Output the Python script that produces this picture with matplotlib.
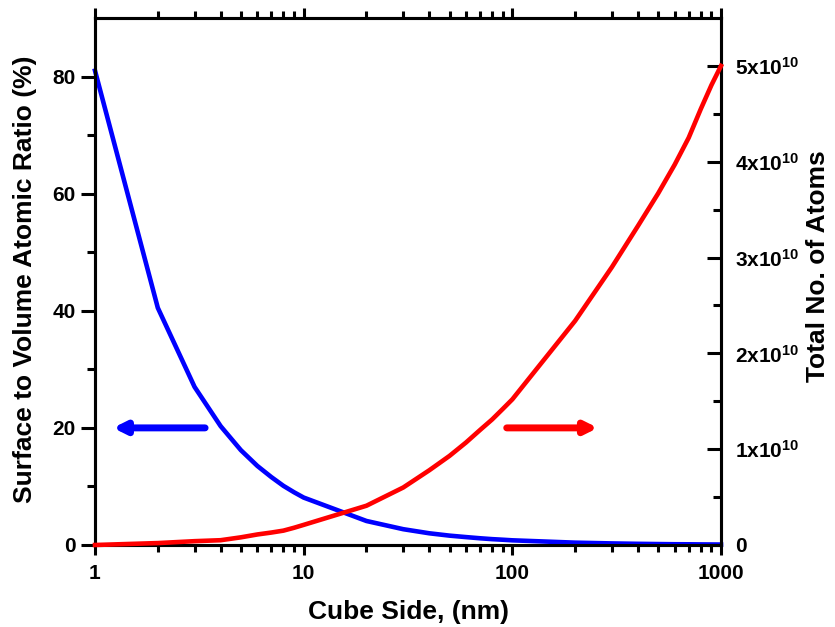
import matplotlib
matplotlib.use("Agg")
import matplotlib.pyplot as plt
from matplotlib.ticker import FixedLocator, NullFormatter, LogLocator

plt.rcParams['font.family'] = ['Liberation Sans', 'DejaVu Sans']
plt.rcParams['font.weight'] = 'bold'
plt.rcParams['mathtext.default'] = 'regular'

cube_side = [1, 2, 3, 4, 5, 6, 7, 8, 9, 10, 20, 30, 40, 50, 60, 70, 80, 90, 100,
             200, 300, 400, 500, 600, 700, 800, 900, 1000]
surface_ratio = [81, 40.5, 27, 20.3, 16.2, 13.5, 11.6, 10.1, 9.0, 8.1, 4.1, 2.7, 2.0,
                 1.6, 1.35, 1.15, 1.0, 0.9, 0.8, 0.4, 0.27, 0.2, 0.16, 0.13, 0.12,
                 0.1, 0.09, 0.08]
total_atoms = [0.0, 0.02e10, 0.04e10, 0.05e10, 0.08e10, 0.11e10, 0.13e10, 0.15e10,
               0.18e10, 0.21e10, 0.41e10, 0.60e10, 0.78e10, 0.93e10, 1.07e10,
               1.20e10, 1.31e10, 1.42e10, 1.52e10, 2.34e10, 2.90e10, 3.33e10,
               3.67e10, 3.97e10, 4.25e10, 4.55e10, 4.80e10, 5.00e10]

x_ticks = [1, 10, 100, 1000]
x_ticklabels = ['1', '10', '100', '1000']
left_ticks = [0, 20, 40, 60, 80]
right_ticks = [0, 1e10, 2e10, 3e10, 4e10, 5e10]
right_ticklabels = ['0', '1x10$^{10}$', '2x10$^{10}$', '3x10$^{10}$', '4x10$^{10}$', '5x10$^{10}$']

fig = plt.figure(figsize=(8.35, 6.27), dpi=100)
ax = fig.add_axes([95/835, 1-545/627, (721-95)/835, (545-18)/627])
ax2 = ax.twinx()

ax.plot(cube_side, surface_ratio, color='#0000ff', lw=3.3, clip_on=False, zorder=5)
ax2.plot(cube_side, total_atoms, color='#ff0000', lw=3.3, clip_on=False, zorder=5)

ax.set_xscale('log')
ax.set_xlim(1, 1000)
ax.set_ylim(0, 90)
ax2.set_ylim(0, 5.5e10)

ax.xaxis.set_major_locator(FixedLocator(x_ticks))
ax.set_xticklabels(x_ticklabels)
ax.xaxis.set_minor_locator(LogLocator(base=10, subs=range(2, 10)))
ax.xaxis.set_minor_formatter(NullFormatter())

ax.set_yticks(left_ticks)
ax.yaxis.set_minor_locator(FixedLocator([10, 30, 50, 70]))
ax2.set_yticks(right_ticks)
ax2.set_yticklabels(right_ticklabels)
ax2.yaxis.set_minor_locator(FixedLocator([0.5e10, 1.5e10, 2.5e10, 3.5e10, 4.5e10]))

for a in (ax, ax2):
    for s in a.spines.values():
        s.set_linewidth(2.2)
ax.tick_params(axis='y', which='major', direction='out', length=10, width=2.2,
               labelsize=15, pad=4)
ax.tick_params(axis='y', which='minor', direction='out', length=6, width=2.2)
ax.tick_params(axis='x', which='major', direction='out', length=7, width=2.2,
               labelsize=15, pad=7, top=True)
ax.tick_params(axis='x', which='minor', direction='out', length=5, width=2.2, top=True)
ax2.tick_params(axis='y', which='major', direction='in', length=10, width=2.2,
                labelsize=15, pad=10)
ax2.tick_params(axis='y', which='minor', direction='in', length=6, width=2.2)

ax.set_xlabel('Cube Side, (nm)', fontsize=19, fontweight='bold', labelpad=12)
ax.set_ylabel('Surface to Volume Atomic Ratio (%)', fontsize=19, fontweight='bold')
ax.yaxis.set_label_coords(-0.092, 0.505)
ax2.set_ylabel('Total No. of Atoms', fontsize=19, fontweight='bold')
ax2.yaxis.set_label_coords(1.135, 0.529)

ax.annotate('', xy=(1.22, 20), xytext=(3.37, 20),
            arrowprops=dict(arrowstyle='-|>,head_length=0.7,head_width=0.35',
                            color='#0000ff', lw=5, shrinkA=0, shrinkB=0))
ax.annotate('', xy=(257, 20), xytext=(94, 20),
            arrowprops=dict(arrowstyle='-|>,head_length=0.7,head_width=0.35',
                            color='#ff0000', lw=5, shrinkA=0, shrinkB=0))

fig.savefig('out.png', dpi=100)
